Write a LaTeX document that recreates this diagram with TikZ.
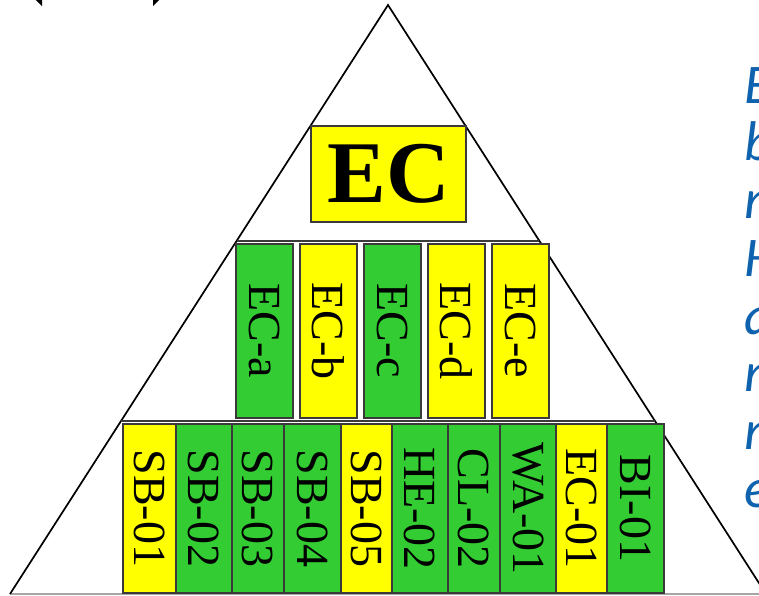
\documentclass[tikz,border=0pt]{standalone}
\usepackage{fontspec}
\setmainfont{Liberation Serif}
\newfontfamily\notefont{Carlito}
\usepackage{xcolor}
\definecolor{cLeaf}{HTML}{33CC33}
\definecolor{cHub}{HTML}{FFFF00}
\definecolor{cNote}{HTML}{0F62AE}
\definecolor{cEdge}{HTML}{3A3A3A}
\usetikzlibrary{positioning,arrows.meta,calc}
\tikzset{
  box-base/.style={draw=cEdge,line width=1.3pt,inner sep=0pt,
    font=\fontsize{46}{46}\selectfont},
  box-green/.style={box-base,fill=cLeaf},
  box-yellow/.style={box-base,fill=cHub},
  box-mid/.style={rotate=-90,minimum width=174pt,minimum height=57pt},
  box-low/.style={rotate=-90,minimum width=169pt},
  box-top/.style={box-base,fill=cHub,minimum width=155pt,minimum height=96pt,
    font=\fontsize{88}{88}\selectfont\bfseries},
  tier-side/.style={draw=black,line width=1.7pt},
  tier-base/.style={draw=black!35,line width=1.4pt},
  tier-line/.style={draw=cEdge,line width=1.5pt},
  note-text/.style={anchor=base west,inner sep=0pt,text=cNote,
    font=\notefont\itshape\fontsize{56}{56}\selectfont},
  span-arrow/.style={{Triangle[length=11pt,width=22pt]}-{Triangle[length=11pt,width=22pt]},
    line width=1.4pt,draw=black},
}

\begin{document}
\begin{tikzpicture}[x=1pt,y=-1pt]
  \useasboundingbox (0,0) rectangle (759,595);
  % pyramid outline
  \coordinate (apex) at (388,5);
  \coordinate (base-l) at (10,594);
  \coordinate (base-r) at (766,594);
  \draw[tier-base] (base-l) -- (base-r);
  \draw[tier-side] (base-l) -- (apex) -- (base-r);
  % tier separators
  \coordinate (mid-l) at ($(apex)!0.4007!(base-l)$);
  \coordinate (mid-r) at ($(apex)!0.4007!(base-r)$);
  \coordinate (low-l) at ($(apex)!0.7063!(base-l)$);
  \coordinate (low-r) at ($(apex)!0.7063!(base-r)$);
  \draw[tier-line] (mid-l) -- (mid-r);
  \draw[tier-line] (low-l) -- (low-r);

  % top
  \node[box-top] (ec) at (388.5,174) {EC};

  % middle tier
  \foreach \lbl/\col/\xc [count=\i] in {EC-a/green/264.5,EC-b/yellow/328.5,
      EC-c/green/392.5,EC-d/yellow/456.5,EC-e/yellow/520.5}
    \node[box-\col,box-mid] (mid-\i) at (\xc,331) {\lbl};

  % bottom tier
  \foreach \lbl/\col/\xc/\w [count=\i] in {SB-01/yellow/149.5/53,
      SB-02/green/204/56,SB-03/green/258/52,SB-04/green/312.5/57,
      SB-05/yellow/366.5/51,HE-02/green/420/56,CL-02/green/474/52,
      WA-01/green/528/56,EC-01/yellow/581.5/51,BI-01/green/635.5/57}
    \node[box-\col,box-low,minimum height=\w pt] (low-\i) at (\xc,508.5) {\lbl};

  % side note
  \foreach \ch [count=\i] in {E,b,n,H,a,n,n,e}
    \node[note-text] (note-\i) at (744,{45.5+57.7*\i}) {\ch};

  % span arrow
  \coordinate (span-l) at (31,-5);
  \coordinate (span-r) at (164,-5);
  \draw[span-arrow] (span-l) -- (span-r);
\end{tikzpicture}
\end{document}
